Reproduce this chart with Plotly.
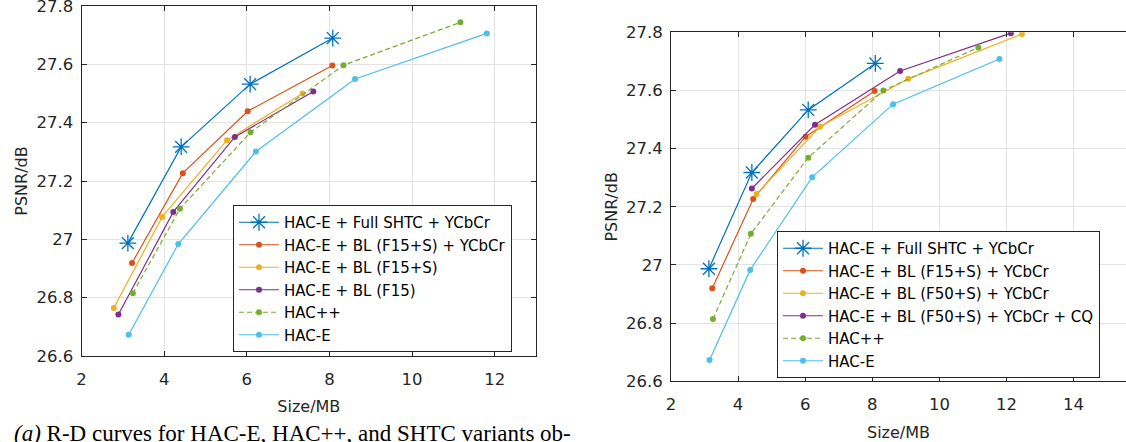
import plotly.graph_objects as go

# ---------------- data: left panel ----------------
L_full_x = [3.12, 4.41, 6.08, 8.08]
L_full_y = [26.987, 27.317, 27.532, 27.690]
L_bly_x = [3.22, 4.45, 6.02, 8.07]
L_bly_y = [26.919, 27.227, 27.439, 27.596]
L_bls_x = [2.78, 3.95, 5.52, 7.35]
L_bls_y = [26.765, 27.077, 27.340, 27.500]
L_blf_x = [2.89, 4.22, 5.71, 7.61]
L_blf_y = [26.742, 27.094, 27.351, 27.507]
L_hpp_x = [3.24, 4.38, 6.09, 8.34, 11.17]
L_hpp_y = [26.815, 27.105, 27.367, 27.597, 27.744]
L_hace_x = [3.14, 4.34, 6.22, 8.62, 11.81]
L_hace_y = [26.673, 26.984, 27.301, 27.550, 27.706]

# ---------------- data: right panel ----------------
R_full_x = [3.13, 4.41, 6.09, 8.09]
R_full_y = [26.987, 27.318, 27.533, 27.693]
R_bly_x = [3.23, 4.45, 6.01, 8.07]
R_bly_y = [26.920, 27.227, 27.441, 27.598]
R_f50_x = [4.55, 6.44, 9.07, 12.46]
R_f50_y = [27.244, 27.475, 27.640, 27.794]
R_cq_x = [4.41, 6.29, 8.83, 12.13]
R_cq_y = [27.263, 27.482, 27.667, 27.797]
R_hpp_x = [3.25, 4.38, 6.09, 8.33, 11.16]
R_hpp_y = [26.814, 27.107, 27.369, 27.600, 27.748]
R_hace_x = [3.15, 4.36, 6.21, 8.62, 11.79]
R_hace_y = [26.673, 26.983, 27.302, 27.553, 27.708]

L_names = ["HAC-E + Full SHTC + YCbCr", "HAC-E + BL (F15+S) + YCbCr",
           "HAC-E + BL (F15+S)", "HAC-E + BL (F15)", "HAC++", "HAC-E"]
R_names = ["HAC-E + Full SHTC + YCbCr", "HAC-E + BL (F15+S) + YCbCr",
           "HAC-E + BL (F50+S) + YCbCr", "HAC-E + BL (F50+S) + YCbCr + CQ",
           "HAC++", "HAC-E"]

y_ticks = [26.6, 26.8, 27.0, 27.2, 27.4, 27.6, 27.8]
y_ticktext = ["26.6", "26.8", "27", "27.2", "27.4", "27.6", "27.8"]
L_x_ticks = [2, 4, 6, 8, 10, 12]
R_x_ticks = [2, 4, 6, 8, 10, 12, 14]
caption = "<i>(a)</i> R-D curves for HAC-E, HAC++, and SHTC variants ob-"

BLUE = "#0072BD"; RED = "#D95319"; YEL = "#EDB120"; PUR = "#7E2F8E"
GRN = "#77AC30"; LBL = "#4DBEEE"

W, H = 1126, 442
fig = go.Figure()


def add(x, y, name, color, xa, ya, leg, star=False, dash=None):
    fig.add_trace(go.Scatter(
        x=x, y=y, name=name, mode="lines+markers", xaxis=xa, yaxis=ya, legend=leg,
        line=dict(color=color, width=1.2, dash=dash),
        marker=dict(symbol="asterisk-open" if star else "circle",
                    size=14 if star else 6, color=color,
                    line=dict(color=color, width=1.3 if star else 0)),
    ))


Lsets = [(L_full_x, L_full_y, BLUE, True, None), (L_bly_x, L_bly_y, RED, False, None),
         (L_bls_x, L_bls_y, YEL, False, None), (L_blf_x, L_blf_y, PUR, False, None),
         (L_hpp_x, L_hpp_y, GRN, False, "5px,3px"), (L_hace_x, L_hace_y, LBL, False, None)]
for (x, y, c, s, d), n in zip(Lsets, L_names):
    add(x, y, n, c, "x", "y", "legend", s, d)

Rsets = [(R_full_x, R_full_y, BLUE, True, None), (R_bly_x, R_bly_y, RED, False, None),
         (R_f50_x, R_f50_y, YEL, False, None), (R_cq_x, R_cq_y, PUR, False, None),
         (R_hpp_x, R_hpp_y, GRN, False, "5px,3px"), (R_hace_x, R_hace_y, LBL, False, None)]
for (x, y, c, s, d), n in zip(Rsets, R_names):
    add(x, y, n, c, "x2", "y2", "legend2", s, d)

AX = "#262626"
GRID = "#E3E3E3"
tickfont = dict(family="DejaVu Sans", size=16.5, color=AX)
titlefont = dict(family="DejaVu Sans", size=16, color=AX)

common = dict(showline=True, linecolor=AX, linewidth=1, ticks="inside", ticklen=5,
              tickcolor=AX, showgrid=True, gridcolor=GRID, gridwidth=1, zeroline=False,
              tickfont=tickfont, title_font=titlefont, automargin=False,
              ticklabeloverflow="allow")

fig.update_layout(
    width=W, height=H, margin=dict(l=0, r=0, t=0, b=0),
    paper_bgcolor="white", plot_bgcolor="white", showlegend=True,
    font=dict(family="DejaVu Sans", color=AX),
    xaxis=dict(domain=[81.6 / W, 536 / W], range=[2, 13], anchor="y", mirror="ticks",
               tickvals=L_x_ticks, ticktext=[str(v) for v in L_x_ticks],
               title=dict(text="Size/MB", standoff=13), ticklabelstandoff=8, **common),
    yaxis=dict(domain=[1 - 356 / H, 1 - 6 / H], range=[26.6, 27.8], anchor="x", mirror="ticks",
               tickvals=y_ticks, ticktext=y_ticktext,
               title=dict(text="PSNR/dB", standoff=4), ticklabelstandoff=4, **common),
    xaxis2=dict(domain=[671 / W, 1.0], range=[2, 2 + (W - 671) / 33.55], anchor="y2", mirror="ticks",
                tickvals=R_x_ticks, ticktext=[str(v) for v in R_x_ticks],
                title=dict(text="Size/MB", standoff=13), ticklabelstandoff=8, **common),
    yaxis2=dict(domain=[1 - 381.3 / H, 1 - 32.3 / H], range=[26.6, 27.8], anchor="x2", mirror=False,
                tickvals=y_ticks, ticktext=y_ticktext,
                title=dict(text="PSNR/dB", standoff=4), ticklabelstandoff=4, **common),
    legend=dict(x=233 / W, y=1 - 205 / H, xanchor="left", yanchor="top",
                bgcolor="white", bordercolor=AX, borderwidth=1, itemwidth=40,
                font=dict(family="DejaVu Sans", size=15, color="black"), tracegroupgap=0),
    legend2=dict(x=777 / W, y=1 - 231 / H, xanchor="left", yanchor="top",
                 bgcolor="white", bordercolor=AX, borderwidth=1, itemwidth=40,
                 font=dict(family="DejaVu Sans", size=15, color="black"), tracegroupgap=0),
    annotations=[dict(text=caption, xref="paper", yref="paper", x=12 / W, y=1 - 419 / H,
                      xanchor="left", yanchor="top", showarrow=False,
                      font=dict(family="Liberation Serif", size=23, color="black"))],
)

fig.write_html("out.html", config={"displayModeBar": False},
               post_script="document.body.style.margin='0';document.body.style.overflow='hidden';")
